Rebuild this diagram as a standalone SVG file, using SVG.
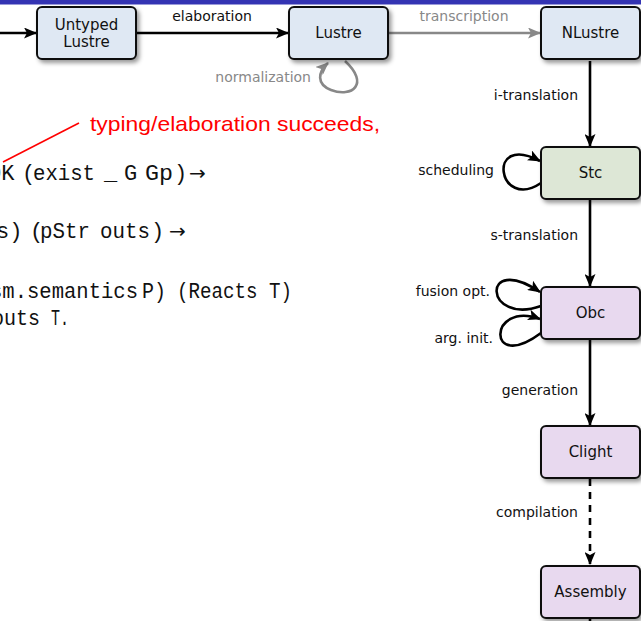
<svg xmlns="http://www.w3.org/2000/svg" width="641" height="621" viewBox="0 0 641 621">
<defs>
<style>
.box{stroke:#111;stroke-width:2;filter:url(#sh)}
.blue{fill:#dfe8f3}
.green{fill:#dde7d6}
.lav{fill:#e8d9ef}
.nl{font-family:"DejaVu Sans","Open Sans",sans-serif;font-size:15px;fill:#111;text-anchor:middle}
.el{font-family:"DejaVu Sans","Open Sans",sans-serif;font-size:14px;fill:#111}
.gl{fill:#888}
.e{fill:none;stroke:#000;stroke-width:2.6}
.g{fill:none;stroke:#888;stroke-width:2.6}
.mono{font-family:"Liberation Mono","DejaVu Sans Mono",monospace;font-size:22px;fill:#111}
.arr{font-family:"DejaVu Sans",sans-serif;font-size:20px}
</style>
<filter id="sh" x="-20%" y="-20%" width="150%" height="160%">
<feDropShadow dx="2.5" dy="3" stdDeviation="2.2" flood-color="#000" flood-opacity="0.4"/>
</filter>
<marker id="ah" markerWidth="13" markerHeight="11" refX="12" refY="5.5" orient="auto" markerUnits="userSpaceOnUse">
<path d="M0,0 L13,5.5 L0,11 L3,5.5 Z" fill="#000"/>
</marker>
<marker id="ahg" markerWidth="13" markerHeight="11" refX="12" refY="5.5" orient="auto" markerUnits="userSpaceOnUse">
<path d="M0,0 L13,5.5 L0,11 L3,5.5 Z" fill="#888"/>
</marker>
</defs>
<rect x="0" y="0" width="641" height="4.5" fill="#3434b3"/>

<g id="connectors">
<line class="e" x1="0" y1="33" x2="36" y2="33" marker-end="url(#ah)"/>
<line class="e" x1="137" y1="33" x2="288" y2="33" marker-end="url(#ah)"/>
<line class="g" x1="389" y1="33" x2="540" y2="33" marker-end="url(#ahg)"/>
<path class="g" d="M345,61 C370,84 352,98 331,90 C316,84 318,72 328,63" marker-end="url(#ahg)"/>
<line class="e" x1="590" y1="61" x2="590" y2="146" marker-end="url(#ah)"/>
<path class="e" d="M541,183 C498,212 485,132 540,161" marker-end="url(#ah)"/>
<line class="e" x1="590" y1="200" x2="590" y2="286" marker-end="url(#ah)"/>
<path class="e" d="M541,306 C484,326 480,252 540,292" marker-end="url(#ah)"/>
<path class="e" d="M541,333 C486,374 488,300 540,319" marker-end="url(#ah)"/>
<line class="e" x1="590" y1="340" x2="590" y2="425" marker-end="url(#ah)"/>
<line class="e" x1="590" y1="479" x2="590" y2="564" stroke-dasharray="7,6" marker-end="url(#ah)"/>
<line class="e" x1="590" y1="619" x2="590" y2="621"/>
<text class="el" x="212" y="21" text-anchor="middle">elaboration</text>
<text class="el gl" x="464" y="21" text-anchor="middle">transcription</text>
<text class="el gl" x="311" y="82" text-anchor="end">normalization</text>
<text class="el" x="578" y="100" text-anchor="end">i-translation</text>
<text class="el" x="494" y="175" text-anchor="end">scheduling</text>
<text class="el" x="578" y="240" text-anchor="end">s-translation</text>
<text class="el" x="490" y="296" text-anchor="end">fusion opt.</text>
<text class="el" x="493" y="343" text-anchor="end">arg.  init.</text>
<text class="el" x="578" y="395" text-anchor="end">generation</text>
<text class="el" x="578" y="517" text-anchor="end">compilation</text>
</g>

<g id="untyped">
<rect class="box blue" x="37" y="7" width="99" height="52" rx="5"/>
<text class="nl" x="86.5" y="30">Untyped</text>
<text class="nl" x="86.5" y="47">Lustre</text>
</g>
<g id="lustre">
<rect class="box blue" x="289" y="7" width="99" height="52" rx="5"/>
<text class="nl" x="338.5" y="38">Lustre</text>
</g>
<g id="nlustre">
<rect class="box blue" x="541" y="7" width="99" height="52" rx="5"/>
<text class="nl" x="590.5" y="38">NLustre</text>
</g>
<g id="stc">
<rect class="box green" x="541" y="147" width="99" height="52" rx="5"/>
<text class="nl" x="590.5" y="178">Stc</text>
</g>
<g id="obc">
<rect class="box lav" x="541" y="287" width="99" height="52" rx="5"/>
<text class="nl" x="590.5" y="318">Obc</text>
</g>
<g id="clight">
<rect class="box lav" x="541" y="426" width="99" height="52" rx="5"/>
<text class="nl" x="590.5" y="457">Clight</text>
</g>
<g id="assembly">
<rect class="box lav" x="541" y="566" width="99" height="52" rx="5"/>
<text class="nl" x="590.5" y="597">Assembly</text>
</g>

<g id="code">
<line x1="79" y1="123" x2="3" y2="162" stroke="#f00" stroke-width="1.6"/>
<text x="90" y="131" font-family="'Liberation Sans',Arial,sans-serif" font-size="21px" fill="#f00" textLength="290" lengthAdjust="spacingAndGlyphs">typing/elaboration succeeds,</text>
<text class="mono" y="180"><tspan x="-12">OK</tspan><tspan x="22">(</tspan><tspan x="33" textLength="62" lengthAdjust="spacingAndGlyphs">exist</tspan><tspan x="104">_</tspan><tspan x="124">G</tspan><tspan x="145" textLength="28" lengthAdjust="spacingAndGlyphs">Gp</tspan><tspan x="174">)</tspan><tspan class="arr" x="189">→</tspan></text>
<text class="mono" y="238"><tspan x="-4">s)</tspan><tspan x="30">(</tspan><tspan x="40" textLength="50" lengthAdjust="spacingAndGlyphs">pStr</tspan><tspan x="100" textLength="50" lengthAdjust="spacingAndGlyphs">outs</tspan><tspan x="151">)</tspan><tspan class="arr" x="169">→</tspan></text>
<text class="mono" y="298"><tspan x="-10" textLength="148" lengthAdjust="spacingAndGlyphs">sm.semantics</tspan><tspan x="142" textLength="24" lengthAdjust="spacingAndGlyphs">P)</tspan><tspan x="177" textLength="115" lengthAdjust="spacingAndGlyphs">(Reacts T)</tspan></text>
<text class="mono" y="325"><tspan x="-8" textLength="48" lengthAdjust="spacingAndGlyphs">outs</tspan><tspan x="51" textLength="18" lengthAdjust="spacingAndGlyphs">T.</tspan></text>
</g>
</svg>
